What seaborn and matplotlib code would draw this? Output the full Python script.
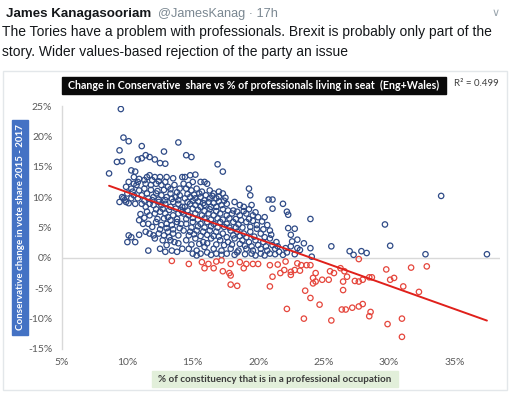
import numpy as np
import pandas as pd
import seaborn as sns
import matplotlib.pyplot as plt
from matplotlib.patches import Rectangle
from matplotlib.ticker import FuncFormatter

# seats where the Tory share went up (% values)
gain_x = [9.5, 9.7, 10.1, 11.1, 9.4, 12.8, 13.9, 9.2, 9.6, 10.8, 11.1, 11.4, 11.7, 12.1, 12.5, 12.9,
          8.6, 10.3, 10.6, 10.5, 11.7, 12.1, 11.5, 12.5, 13.0, 13.5, 14.2, 10.1, 9.9, 10.5, 10.7, 10.8,
          10.3, 11.4, 11.8, 12.2, 12.6, 13.1, 13.6, 14.0, 9.6, 9.8, 9.4, 9.9, 10.3, 10.5, 10.8, 11.1,
          11.5, 11.6, 12.0, 12.2, 12.6, 13.0, 13.3, 13.7, 14.0, 11.1, 11.4, 11.7, 12.0, 12.4, 12.6, 12.9,
          13.3, 13.5, 13.9, 14.2, 11.5, 11.7, 12.1, 12.5, 12.9, 13.1, 13.5, 13.9, 14.2, 11.2, 11.6, 11.9,
          12.2, 12.6, 13.0, 13.4, 13.8, 14.1, 11.4, 11.7, 12.0, 12.4, 12.8, 13.1, 13.5, 13.9, 10.1, 10.3,
          10.0, 10.6, 10.9, 12.1, 12.5, 11.6, 13.0, 13.4, 13.8, 14.2, 13.3, 13.6,
          14.5, 14.9, 16.9, 17.3, 14.4, 14.8, 15.2, 15.6, 15.9, 16.1, 14.3, 14.7, 15.0, 14.5, 14.9, 15.3,
          15.7, 16.3, 16.6, 17.0, 17.3, 19.3, 19.4, 20.8, 21.1, 21.1, 14.4, 14.8, 15.2, 15.6, 15.9, 16.3,
          16.8, 17.6, 18.2, 18.6, 18.9, 19.5, 18.1, 14.4, 14.8, 15.2, 15.6, 15.9, 16.4, 16.8, 17.2, 14.3,
          14.7, 15.2, 15.7, 16.2, 16.6, 17.1, 17.6, 18.0, 18.6, 19.1, 19.6, 20.0, 20.5, 14.5, 15.0, 15.6,
          16.1, 16.6, 17.1, 17.6, 18.1, 18.5, 19.1, 19.9, 20.7, 20.9, 14.3, 14.8, 15.3, 15.8, 16.3, 16.8,
          17.3, 17.9, 18.4, 18.9, 19.4, 20.2, 14.5, 15.2, 15.8, 16.4, 17.1, 17.7, 18.2, 18.8, 19.3, 19.8,
          20.4, 20.9, 21.4, 14.7, 15.3, 15.9, 16.6, 17.2, 17.9, 18.5, 19.1, 19.6, 20.2, 20.7, 21.3, 21.6,
          15.0, 15.6, 16.1, 16.8, 17.6, 18.4, 19.5, 20.2, 20.9,
          21.9, 22.2, 22.3, 24.0, 22.3, 22.8, 22.5, 22.6, 23.0, 23.5, 22.5, 23.0, 23.2, 24.0, 25.6, 24.1,
          27.0, 22.1, 22.2, 21.9, 22.8, 29.7, 27.3, 27.9, 28.3, 30.1, 32.8, 37.5, 34.0,
          # overlapping points in the dense core
          12.3, 12.8, 13.3, 13.8, 12.4, 12.9, 13.4, 13.9, 12.2, 12.7, 13.2, 13.7, 14.1, 12.3, 12.8, 13.3,
          13.8, 12.5, 13.0, 13.5, 14.0, 12.7, 13.2, 13.9, 12.9,
          14.6, 15.1, 15.5, 16.0, 16.5, 17.0, 17.5, 14.6, 15.0, 15.4, 15.8, 16.2, 16.6, 17.0, 17.4, 14.6,
          15.0, 15.4, 15.9, 16.3, 16.8, 17.3, 17.7, 14.5, 15.0, 15.4, 15.9, 16.4, 16.9, 17.3, 17.8, 18.3,
          14.9, 15.4, 15.9, 16.4, 16.9, 17.4, 17.8, 18.3, 14.7, 15.1, 15.6, 16.1, 16.6, 17.0, 17.6, 18.1,
          14.9, 15.5, 16.1, 16.8, 17.4, 18.0,
          18.4, 18.9, 19.3, 19.8, 18.7, 19.3, 19.6, 20.3, 18.8, 19.4, 19.9, 20.4, 18.6, 19.1, 19.7, 20.5,
          21.0, 18.6, 19.0, 19.5, 20.0, 20.6, 21.1, 21.5, 18.2, 19.0, 19.8, 20.5, 21.3, 17.2, 16.4, 15.3,
          10.0, 10.4, 10.9, 11.3, 11.8, 9.7, 10.1, 10.6, 11.3, 11.9, 10.9, 11.3, 11.9, 12.4, 12.9, 11.0,
          10.9, 11.3]
gain_y = [24.5, 19.8, 19.2, 18.4, 17.7, 17.5, 19.0, 15.8, 15.9, 16.2, 16.4, 16.9, 16.6, 16.2, 15.6, 15.5,
          13.9, 14.4, 14.2, 13.3, 13.6, 13.3, 13.3, 13.3, 13.3, 13.1, 13.3, 12.5, 11.7, 12.2, 12.0, 12.5,
          11.4, 12.2, 12.0, 12.2, 12.0, 11.7, 12.0, 11.4, 10.0, 9.5, 9.2, 9.2, 9.8, 10.3, 9.8, 10.3,
          10.6, 9.8, 10.0, 10.6, 10.3, 10.0, 10.6, 10.0, 10.3, 8.9, 8.4, 8.9, 8.7, 9.2, 8.7, 8.9,
          8.4, 9.2, 8.9, 8.4, 7.6, 7.0, 7.3, 7.6, 7.3, 6.7, 7.0, 7.3, 7.6, 5.6, 5.6, 5.1,
          5.9, 5.4, 5.6, 5.4, 5.9, 5.6, 4.3, 4.0, 3.7, 4.0, 3.7, 4.3, 4.0, 3.7, 3.7, 3.4,
          2.6, 2.6, 3.8, 3.2, 1.5, 1.2, 2.1, 1.2, 1.0, 1.5, 2.9, 2.6,
          16.9, 16.6, 15.4, 14.2, 13.3, 13.6, 13.7, 12.5, 12.5, 12.2, 12.2, 12.0, 12.5, 11.4, 11.1, 11.4,
          10.9, 11.1, 10.6, 10.9, 10.6, 11.4, 10.3, 9.6, 9.6, 8.1, 9.8, 10.0, 9.8, 10.0, 9.5, 9.8,
          9.8, 8.9, 9.2, 8.7, 8.4, 8.7, 7.8, 8.4, 8.9, 8.7, 8.4, 8.7, 8.4, 8.4, 8.7, 7.3,
          7.0, 7.3, 7.0, 7.3, 7.0, 7.3, 7.0, 7.3, 7.0, 7.3, 7.0, 6.7, 6.7, 5.6, 5.9, 5.6,
          5.9, 5.6, 5.9, 5.6, 5.9, 5.5, 5.9, 5.4, 5.4, 4.5, 4.5, 4.3, 4.5, 4.3, 4.5, 4.3,
          4.0, 4.5, 4.3, 4.0, 4.3, 4.0, 2.9, 3.2, 2.6, 3.2, 2.9, 2.6, 3.2, 2.9, 2.6, 2.9,
          2.6, 3.2, 2.6, 1.5, 1.2, 1.8, 1.5, 1.2, 1.5, 1.2, 1.5, 1.2, 1.5, 1.2, 1.5, 1.0,
          0.7, 0.7, 0.9, 0.7, 0.7, 0.9, 0.7, 0.7, 0.7,
          8.9, 7.6, 7.1, 6.4, 4.9, 4.8, 3.8, 2.7, 3.0, 2.4, 1.9, 1.6, 1.3, 1.6, 1.9, 0.2,
          1.1, 1.6, 0.9, 0.5, 0.6, 5.5, 0.5, 1.1, 0.8, 2.0, 0.6, 0.6, 10.2,
          # overlapping points in the dense core
          11.0, 11.2, 11.3, 10.8, 9.6, 9.5, 9.7, 9.5, 8.0, 8.1, 7.9, 8.1, 7.9, 6.4, 6.5, 6.2,
          6.4, 4.7, 4.9, 4.7, 4.9, 2.9, 3.4, 2.4, 1.0,
          10.5, 10.4, 10.6, 10.3, 10.2, 10.1, 9.9, 9.2, 9.4, 9.3, 9.0, 9.2, 9.0, 9.3, 9.4, 7.8,
          8.1, 7.9, 7.7, 8.0, 7.7, 8.0, 7.8, 6.4, 6.6, 6.3, 6.5, 6.3, 6.5, 6.3, 6.5, 6.4,
          5.0, 5.2, 5.0, 5.2, 5.0, 5.1, 5.0, 5.0, 3.7, 3.9, 3.6, 3.8, 3.6, 3.5, 3.4, 3.7,
          2.2, 2.3, 2.4, 2.2, 2.1, 2.2,
          7.6, 7.7, 8.0, 7.5, 6.2, 6.4, 6.1, 6.0, 5.0, 5.1, 4.8, 4.7, 3.6, 3.4, 3.5, 3.4,
          3.8, 2.3, 2.0, 1.9, 2.1, 1.9, 2.1, 1.9, 0.5, 0.6, 0.4, 0.4, 0.6, 0.5, 0.5, 0.4,
          10.6, 10.9, 11.1, 11.4, 11.2, 9.8, 9.0, 8.9, 9.4, 9.5, 13.0, 12.8, 12.8, 12.6, 12.5, 7.2,
          6.2, 6.6]

# seats where the Tory share went down
loss_x = [13.4, 14.7, 15.7, 16.2, 16.8, 17.2, 17.9, 18.6, 19.1, 19.6, 20.0, 20.9, 21.5, 15.9, 16.6, 18.9,
          17.3, 17.8, 17.9, 17.9, 18.4, 20.9, 21.1, 21.7, 22.1, 22.0, 22.5, 22.5, 22.8, 23.2, 23.0, 23.3,
          23.7, 24.0, 24.4, 24.2, 24.2, 24.4, 24.9, 25.4, 25.5, 25.8, 26.3, 26.6, 26.8, 26.5, 23.6, 24.0,
          24.7, 22.2, 23.5, 25.6, 26.5, 26.4, 26.7, 27.2, 27.7, 28.0, 27.7, 27.4, 27.7, 28.0, 28.5, 28.7,
          29.8, 30.1, 30.4, 31.1, 31.7, 32.9, 32.3, 28.6, 28.5, 29.9, 31.0, 31.0]
loss_y = [-0.5, -1.0, -0.7, -1.0, -0.6, -0.4, -1.0, -0.7, -1.0, -1.0, -1.0, -1.2, -1.1, -1.7, -1.7, -1.7,
          -2.2, -2.5, -2.9, -4.4, -4.6, -4.7, -3.1, -2.5, -0.6, -2.0, -2.3, -2.8, -2.0, -2.1, -0.9, -1.2,
          -1.2, -1.2, -2.5, -3.3, -4.2, -3.9, -3.6, -3.6, -2.2, -2.5, -1.7, -2.2, -3.1, -3.9, -5.4, -6.6,
          -7.7, -8.4, -10.0, -10.3, -5.3, -8.5, -8.5, -8.2, -8.0, -7.6, -0.2, -3.8, -3.9, -3.6, -3.2, -3.2,
          -1.9, -3.6, -3.3, -4.7, -1.6, -1.4, -5.6, -8.9, -9.6, -10.9, -10.0, -13.0]

x_ticks = [5, 10, 15, 20, 25, 30, 35]
y_ticks = [-15, -10, -5, 0, 5, 10, 15, 20, 25]
r_squared = 0.499

df = pd.DataFrame({'prof': gain_x + loss_x, 'change': gain_y + loss_y})
df['side'] = np.where(df['change'] < 0, 'loss', 'gain')

sns.set_theme(style='white')
plt.rcParams['font.family'] = ['Lato', 'DejaVu Sans']

W, H = 511, 395
fig = plt.figure(figsize=(W / 100, H / 100), dpi=100)
ax = fig.add_axes([62 / W, 1 - 349 / H, 438 / W, 243 / H])

colors = {'gain': '#2f4b87', 'loss': '#e5463c'}
for side, grp in df.groupby('side'):
    sns.scatterplot(data=grp, x='prof', y='change', ax=ax, s=15, facecolor='none',
                    edgecolor=colors[side], linewidth=0.9, legend=False, zorder=3)

# linear trend like the excel one
sns.regplot(data=df, x='prof', y='change', scatter=False, ci=None, truncate=True, ax=ax,
            line_kws=dict(color='#e0201b', lw=1.4, zorder=4))

ax.set_xlim(5, 38.5)
ax.set_ylim(-15, 25)
ax.set_xticks(x_ticks)
ax.set_yticks(y_ticks)
pct = FuncFormatter(lambda v, p: f'{v:.0f}%')
ax.xaxis.set_major_formatter(pct)
ax.yaxis.set_major_formatter(pct)
ax.set_xlabel('')
ax.set_ylabel('')
ax.axhline(0, color='#d9d9d9', lw=1, zorder=1)
for s in ['top', 'right', 'bottom']:
    ax.spines[s].set_visible(False)
ax.spines['left'].set_color('#d9d9d9')
ax.spines['left'].set_linewidth(1)
ax.tick_params(axis='both', length=0, labelsize=7.5, labelcolor='#595959')
ax.tick_params(axis='y', pad=7)
ax.tick_params(axis='x', pad=6.5)

# tweet header
fig.text(6 / W, 1 - 16.7 / H, 'James Kanagasooriam', family='Liberation Sans', weight='bold',
         fontsize=9.6, color='#14171a', va='baseline')
fig.text(158 / W, 1 - 16.7 / H, '@JamesKanag \u00b7 17h', family='Liberation Sans',
         fontsize=9.2, color='#7a8791', va='baseline')
fig.text(496 / W, 1 - 16 / H, '\u2228', family='DejaVu Sans', fontsize=8, color='#9aa5ad',
         va='baseline', ha='center')
fig.text(2 / W, 1 - 35.7 / H,
         'The Tories have a problem with professionals. Brexit is probably only part of the',
         family='Liberation Sans', fontsize=10, color='#14171a', va='baseline')
fig.text(2 / W, 1 - 56 / H, 'story. Wider values-based rejection of the party an issue',
         family='Liberation Sans', fontsize=10, color='#14171a', va='baseline')

# chart frame
fig.patches.append(Rectangle((3 / W, 1 - 390 / H), 504 / W, 319 / H, transform=fig.transFigure,
                             fill=False, ec='#e3e7ea', lw=1))

# title box
fig.patches.append(Rectangle((62 / W, 1 - 94 / H), 384 / W, 16.7 / H, transform=fig.transFigure,
                             color='#0a0a0a'))
fig.text(254 / W, 1 - 85.7 / H,
         'Change in Conservative  share vs % of professionals living in seat  (Eng+Wales)',
         color='white', weight='bold', fontsize=7.7, ha='center', va='center')
fig.text(454 / W, 1 - 83 / H, f'R\u00b2 = {r_squared}', color='#404040', fontsize=7, va='center')

# axis titles in coloured boxes
fig.patches.append(Rectangle((12 / W, 1 - 335 / H), 16 / W, 215 / H, transform=fig.transFigure,
                             color='#4472c4'))
fig.text(20.5 / W, 1 - 227.5 / H, 'Conservative change in vote share 2015 - 2017', color='white',
         weight='bold', fontsize=7, rotation=90, ha='center', va='center')
fig.patches.append(Rectangle((152 / W, 1 - 387 / H), 246 / W, 16 / H, transform=fig.transFigure,
                             color='#e2efda'))
fig.text(275 / W, 1 - 379 / H, '% of constituency that is in a professional occupation',
         color='#3b3b3b', weight='bold', fontsize=7.1, ha='center', va='center')

fig.savefig('out.png', dpi=100)
